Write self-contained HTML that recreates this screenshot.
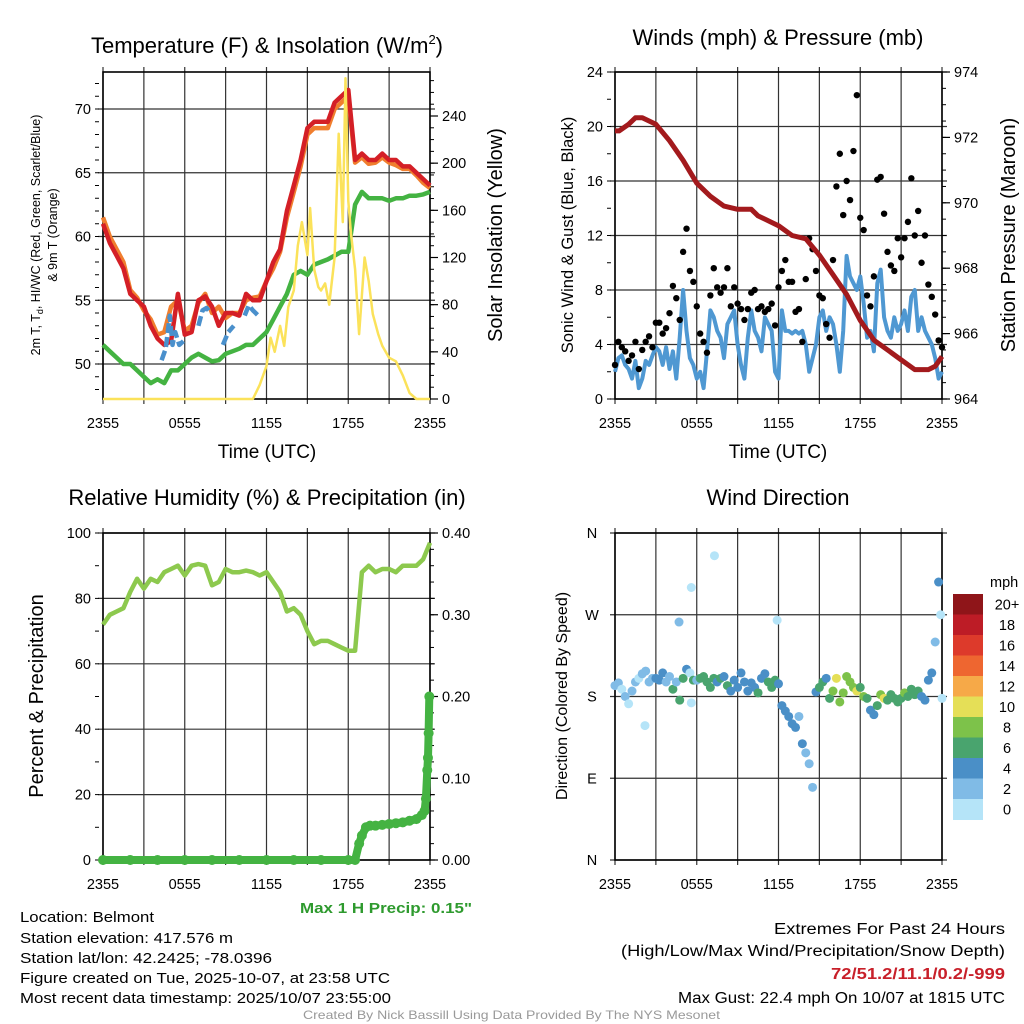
<!DOCTYPE html>
<html><head><meta charset="utf-8"><style>
html,body{margin:0;padding:0;background:#fff;}
svg{display:block;font-family:"Liberation Sans",sans-serif;}
</style></head><body>
<svg id="fig" width="1024" height="1024" viewBox="0 0 1024 1024" xmlns="http://www.w3.org/2000/svg">
<rect width="1024" height="1024" fill="#fff"/>
<g id="layer"></g>
<text x="267" y="53" font-size="22" text-anchor="middle">Temperature (F) &amp; Insolation (W/m<tspan font-size="13" dy="-9">2</tspan><tspan dy="9">)</tspan></text>
<text x="778" y="45" font-size="22" text-anchor="middle">Winds (mph) &amp; Pressure (mb)</text>
<text x="267" y="505" font-size="22" text-anchor="middle">Relative Humidity (%) &amp; Precipitation (in)</text>
<text x="778" y="505" font-size="22" text-anchor="middle">Wind Direction</text>

<text transform="translate(40,235) rotate(-90)" font-size="12.5" text-anchor="middle">2m T, T<tspan font-size="9" dy="3">d</tspan><tspan dy="-3">, HI/WC (Red, Green, Scarlet/Blue)</tspan></text>
<text transform="translate(57,235) rotate(-90)" font-size="12.5" text-anchor="middle">&amp; 9m T (Orange)</text>
<text transform="translate(502,235) rotate(-90)" font-size="20" text-anchor="middle">Solar Insolation (Yellow)</text>
<text transform="translate(573,235) rotate(-90)" font-size="16.5" text-anchor="middle">Sonic Wind &amp; Gust (Blue, Black)</text>
<text transform="translate(1015,235) rotate(-90)" font-size="20" text-anchor="middle">Station Pressure (Maroon)</text>
<text transform="translate(43,696) rotate(-90)" font-size="20" text-anchor="middle">Percent &amp; Precipitation</text>
<text transform="translate(567,696) rotate(-90)" font-size="16" text-anchor="middle">Direction (Colored By Speed)</text>
<text x="267" y="458" font-size="19" text-anchor="middle">Time (UTC)</text>
<text x="778" y="458" font-size="19" text-anchor="middle">Time (UTC)</text>

<text x="300" y="913" font-size="15" font-weight="bold" fill="#2e9a2e" textLength="172" lengthAdjust="spacingAndGlyphs">Max 1 H Precip: 0.15"</text>
<g font-size="15">
<text x="20" y="922" textLength="134" lengthAdjust="spacingAndGlyphs">Location: Belmont</text>
<text x="20" y="943" textLength="213" lengthAdjust="spacingAndGlyphs">Station elevation: 417.576 m</text>
<text x="20" y="963" textLength="252" lengthAdjust="spacingAndGlyphs">Station lat/lon: 42.2425; -78.0396</text>
<text x="20" y="983" textLength="370" lengthAdjust="spacingAndGlyphs">Figure created on Tue, 2025-10-07, at 23:58 UTC</text>
<text x="20" y="1003" textLength="371" lengthAdjust="spacingAndGlyphs">Most recent data timestamp: 2025/10/07 23:55:00</text>
</g>
<g font-size="15.5">
<text x="774" y="934" textLength="231" lengthAdjust="spacingAndGlyphs">Extremes For Past 24 Hours</text>
<text x="621" y="956" textLength="384" lengthAdjust="spacingAndGlyphs">(High/Low/Max Wind/Precipitation/Snow Depth)</text>
<text x="831" y="979" font-weight="bold" fill="#c8202a" textLength="174" lengthAdjust="spacingAndGlyphs">72/51.2/11.1/0.2/-999</text>
<text x="678" y="1003" textLength="327" lengthAdjust="spacingAndGlyphs">Max Gust: 22.4 mph On 10/07 at 1815 UTC</text>
</g>
<text x="303" y="1019" font-size="12" fill="#999" textLength="417" lengthAdjust="spacingAndGlyphs">Created By Nick Bassill Using Data Provided By The NYS Mesonet</text>
</svg>
<script>
// ---------- DATA ----------
const halfHours = [0,0.5,1,1.5,2,2.5,3,3.5,4,4.5,5,5.5,6,6.5,7,7.5,8,8.5,9,9.5,10,10.5,11,11.5,12,12.5,13,13.5,14,14.5,15,15.5,16,16.5,17,17.5,18,18.5,19,19.5,20,20.5,21,21.5,22,22.5,23,23.5,24];
const tempT = [61,59.5,58.5,57.5,55.5,55,54.5,53,52,51.5,51.8,55.5,52.3,52.5,55,55.3,54.5,53,54,54,53.8,55.5,55,55,56.5,58,59,62,64,66,68.5,69,69,69,70.5,71,71.5,66,66.5,66,66,66.5,66,66,65.5,65.5,65,64.5,64];
const temp9m = [61.5,60,59,58,55.8,55.2,54.2,53.5,52.3,52.5,54.5,55,52.6,53,54.8,55.5,54,54.5,53.6,54,54,55,55.2,55.3,56.5,57.5,58.8,61.5,63.5,65.5,68,68.5,68.5,68.5,70,70.5,71,65.8,66.2,65.7,65.8,66.2,65.8,65.6,65.3,65.3,64.8,64.2,63.8];
const dewT = [51.5,51,50.5,50,50,49.5,49,48.5,48.8,48.5,49.5,49.5,50,50.5,50.8,50.5,50.2,50.3,50.8,51,51.2,51.5,51.5,52,52.5,53.5,54.5,55.5,57,57.3,57,57.8,58,58.2,58.5,58.8,58.8,62.5,63.5,63,63,63,62.8,63,63,63.2,63.2,63.3,63.5];
const hiwcTimes = [4.3,4.6,4.9,5.1,5.3,5.6,5.9,null,7.0,7.3,7.6,7.9,null,8.8,9.2,9.6,null,10.4,10.7,11.0,11.4];
const hiwcT = [50.3,51.2,53.8,51.5,52.5,51.5,51.8,null,53,54.2,54.4,54,null,51.5,52.5,53,null,53.8,54.6,54.2,53.8];
const solarTimes = [0,11,11.5,12,12.3,12.6,13,13.3,13.6,14,14.3,14.6,15,15.2,15.5,15.8,16,16.3,16.6,17,17.3,17.6,17.8,18,18.2,18.5,18.8,19.2,19.5,19.8,20.2,20.5,21,21.5,22,22.5,23,24];
const solarW = [0,0,12,28,52,40,62,45,78,92,130,150,122,162,110,95,92,98,80,120,225,150,272,168,140,110,55,120,100,72,55,45,35,32,20,5,0,0];
const pressTimes = [0,0.3,1,1.5,2,3,4,5,6,7,8,9,10,10.5,11,12,13,14,15,16,17,18,19,20,21,22,22.5,23,23.5,24];
const pressMb = [972.2,972.2,972.4,972.6,972.6,972.4,971.9,971.3,970.6,970.2,969.9,969.8,969.8,969.6,969.5,969.3,969.0,968.9,968.4,967.8,967.2,966.4,965.8,965.5,965.2,964.9,964.9,964.9,965.0,965.3];
const quarterHours = [];
for (let i = 0; i <= 96; i++) quarterHours.push(i * 0.25);
const windMph = [2,3,3.2,2.5,2.2,1.5,2.8,0.8,1.5,2.8,2.5,3.2,3.8,3.5,2.5,3.8,2.2,3.5,1.5,4.5,8,5,3,2.5,1.5,2,0.8,3.5,6.5,6,5,4.5,3,5.5,6,6.5,4,2.5,1.5,4.5,6.5,5,4.5,3.5,6,5.5,5,2,1.5,6.5,5,5,4.8,5,4.8,5,4,2,3,4,6,6.5,5,6,5.5,4,2,5,10.5,9,8.5,8,9,7,4.5,5,3.5,8.5,9.5,6,5,4.5,6,5,5.5,6.5,5,7.5,8,5,6,5,4.5,4,3,1.5,2];
const gustTimes = quarterHours;
const gustMph = [2.5,4.2,3.8,3.5,2.8,3.2,4.2,2.2,3.6,4.2,4.6,3.8,5.6,5.6,4.8,5.2,6.3,8.3,7.4,5.8,10.8,12.5,9.4,8.6,6.8,4.8,4.2,3.4,7.6,9.6,8.2,7.8,8.2,9.6,6.8,8.2,7,6.6,5.8,6.6,7.8,8,6.6,6.8,6.4,6.6,7,5.4,8.2,9.4,10.2,8.6,8.6,6.4,6.6,4.2,8.8,11.8,11,9.4,7.6,7.4,5.5,4.5,10.2,15.6,18,13.5,16,14.6,18.2,22.3,13.3,12.4,7.6,6.8,9,16.1,16.3,13.6,10.8,9.8,9.4,11.8,10.4,11.8,13,16.2,12,13.8,10,12,8.4,7.5,6.2,4.3,3.8];
const rhPct = [72,75,76,77,82,86,83,86,85,88,89,90,87,90,90.5,90,84,85,89,88,88,88.5,88,87,88,85,82,76,77,75,70,66,67,67,66,65,64,64,88,90,88,89,89,88,90,90,90,92,97];
const precipTimes = [0,2,4,6,8,10,12,14,16,18,18.5,18.8,19,19.3,19.6,20,20.5,21,21.5,22,22.5,23,23.4,23.6,23.7,23.8,23.85,23.9,23.95];
const precipIn = [0,0,0,0,0,0,0,0,0,0,0,0.02,0.03,0.04,0.042,0.042,0.043,0.044,0.045,0.046,0.048,0.05,0.055,0.06,0.075,0.11,0.125,0.155,0.2];
const dirTimes = quarterHours.concat([2.2,4.7,5.6,5.6,7.3,11.9,23.9]);
const dirDeg = [192,195,188,180,172,186,196,200,205,208,196,200,200,198,206,196,202,188,196,176,200,210,206,198,198,200,202,196,190,200,196,200,202,192,186,198,190,206,196,186,195,190,184,200,205,196,190,198,194,170,164,158,150,146,158,128,118,106,80,185,190,196,200,178,186,200,174,184,202,196,190,186,190,180,178,165,160,170,182,178,176,182,178,174,178,184,180,188,182,186,180,176,198,206,240,306,178,
 148,262,300,173,335,264,270];
const dirSpeed = [2,2,1,3,1,2,2,1,2,2,2,3,4,4,4,3,3,6,2,6,6,4,1,6,3,6,6,6,6,6,4,6,4,6,4,4,4,4,4,4,4,4,6,4,4,6,6,6,4,4,4,4,4,4,2,4,2,2,2,4,6,6,4,6,8,10,8,8,8,8,8,10,6,8,6,4,4,6,8,10,6,6,6,6,6,8,6,6,6,6,4,4,4,4,2,4,0,
 0,3,0,0,0,0,0];
const speedLabels = ["0","2","4","6","8","10","12","14","16","18","20+"];
const speedColors = ["#b5e4f8","#80bbe6","#4a8fc7","#49a46e","#7dc24a","#e5df57","#f6a948","#ee6630","#dd3a2b","#bd1c26","#8f1519"];
const timeLabels = ["2355","0555","1155","1755","2355"];
const tempTicks = [50,55,60,65,70];
const solarTicks = [0,40,80,120,160,200,240];
const windTicks = [0,4,8,12,16,20,24];
const pressTicks = [964,966,968,970,972,974];
const rhTicks = [0,20,40,60,80,100];
const precipTicks = ["0.00","0.10","0.20","0.30","0.40"];
const dirLabels = ["N","E","S","W","N"];

// ---------- HELPERS ----------
const NS = "http://www.w3.org/2000/svg";
const layer = document.getElementById("layer");
function mk(tag, attrs, parent) {
  const e = document.createElementNS(NS, tag);
  for (const k in attrs) e.setAttribute(k, attrs[k]);
  (parent || layer).appendChild(e);
  return e;
}
function lin(d0, d1, r0, r1) { return v => r0 + (v - d0) / (d1 - d0) * (r1 - r0); }
function pathD(xs, ys, fx, fy) {
  let d = "", pen = false;
  for (let i = 0; i < xs.length; i++) {
    if (xs[i] === null || ys[i] === null) { pen = false; continue; }
    d += (pen ? "L" : "M") + fx(xs[i]).toFixed(1) + "," + fy(ys[i]).toFixed(1);
    pen = true;
  }
  return d;
}
function panel(name, x0, x1, y0, y1, hlines) {
  const g = mk("g", {});
  
  
  const fx = lin(0, 24, x0, x1);
  for (let i = 0; i <= 8; i++) {
    const l = mk("line", {x1: fx(i * 3), x2: fx(i * 3), y1: y0 - 5, y2: y1 + 5, stroke: "#333", "stroke-width": 1.2}, g);
    
    
  }
  hlines.forEach(y => {
    const l = mk("line", {x1: x0 - 5, x2: x1 + 5, y1: y, y2: y, stroke: "#333", "stroke-width": 1.2}, g);
    
    
  });
  const f = mk("rect", {x: x0, y: y0, width: x1 - x0, height: y1 - y0, fill: "none", stroke: "#000", "stroke-width": 1.6}, g);
  
  
  timeLabels.forEach((t, i) => {
    const tx = mk("text", {x: fx(i * 6), y: y1 + 29, "font-size": 14.5, "text-anchor": "middle"}, g);
    
    
    tx.textContent = t;
  });
  return {g, fx};
}
function yTicks(g, vals, labels, fy, x, side, minorVals) {
  vals.forEach((v, i) => {
    const y = fy(v);
    if (side === "right") mk("line", {x1: x, x2: x + 8, y1: y, y2: y, stroke: "#000", "stroke-width": 1.2}, g);
    const t = mk("text", {x: side === "left" ? x - 8 : x + 12, y: y + 5, "font-size": 14.5, "text-anchor": side === "left" ? "end" : "start"}, g);
    
    
    t.textContent = labels[i];
  });
  (minorVals || []).forEach(v => {
    const y = fy(v);
    if (side === "right") mk("line", {x1: x, x2: x + 4, y1: y, y2: y, stroke: "#000", "stroke-width": 1}, g);
    else mk("line", {x1: x, x2: x - 4, y1: y, y2: y, stroke: "#000", "stroke-width": 1}, g);
  });
}
function range(a, b, s) { const r = []; for (let v = a; v <= b + 1e-9; v += s) r.push(+v.toFixed(4)); return r; }

// ---------- PANEL 1: Temperature ----------
(function () {
  const x0 = 103, x1 = 430, y0 = 72, y1 = 399;
  const fy = lin(50, 70, 364, 109);
  const fs = lin(0, 240, 399, 116);
  const P = panel("temperature", x0, x1, y0, y1, tempTicks.map(fy));
  yTicks(P.g, tempTicks, tempTicks.map(String), fy, x0 - 4, "left", range(48, 72, 1));
  yTicks(P.g, solarTicks, solarTicks.map(String), fs, x1, "right", range(0, 270, 10));
  const s1 = mk("path", {d: pathD(halfHours, temp9m, P.fx, fy), fill: "none", stroke: "#f07e2e", "stroke-width": 4.5, "stroke-linejoin": "round"});
  
  
  const s2 = mk("path", {d: pathD(halfHours, tempT, P.fx, fy), fill: "none", stroke: "#d41f26", "stroke-width": 4.5, "stroke-linejoin": "round"});
  
  
  const s3 = mk("path", {d: pathD(hiwcTimes, hiwcT, P.fx, fy), fill: "none", stroke: "#4a90cc", "stroke-width": 4.5, "stroke-dasharray": "10,4", "stroke-linejoin": "round"});
  
  
  const s4 = mk("path", {d: pathD(halfHours, dewT, P.fx, fy), fill: "none", stroke: "#44b342", "stroke-width": 4.5, "stroke-linejoin": "round"});
  
  
  const s5 = mk("path", {d: pathD(solarTimes, solarW, P.fx, fs), fill: "none", stroke: "#fbe25a", "stroke-width": 2.5, "stroke-linejoin": "round"});
  
  
})();

// ---------- PANEL 2: Winds ----------
(function () {
  const x0 = 615, x1 = 942, y0 = 72, y1 = 399;
  const fy = lin(0, 24, 399, 72);
  const fp = lin(964, 974, 399, 72);
  const P = panel("winds", x0, x1, y0, y1, windTicks.map(fy));
  yTicks(P.g, windTicks, windTicks.map(String), fy, x0 - 4, "left", range(0, 24, 2));
  yTicks(P.g, pressTicks, pressTicks.map(String), fp, x1, "right", range(964, 974, 0.5));
  const w = mk("path", {d: pathD(quarterHours, windMph, P.fx, fy), fill: "none", stroke: "#4f98d2", "stroke-width": 4, "stroke-linejoin": "round"});
  
  
  gustTimes.forEach((t, i) => {
    const c = mk("circle", {cx: P.fx(t), cy: fy(gustMph[i]), r: 3.2, fill: "#000"});
    
    
  });
  const p = mk("path", {d: pathD(pressTimes, pressMb, P.fx, fp), fill: "none", stroke: "#a31a1d", "stroke-width": 5, "stroke-linejoin": "round"});
  
  
})();

// ---------- PANEL 3: RH ----------
(function () {
  const x0 = 103, x1 = 430, y0 = 533, y1 = 860;
  const fy = lin(0, 100, 860, 533);
  const fp = lin(0, 0.4, 860, 533);
  const P = panel("humidity", x0, x1, y0, y1, rhTicks.map(fy));
  yTicks(P.g, rhTicks, rhTicks.map(String), fy, x0 - 4, "left", range(0, 100, 10));
  yTicks(P.g, precipTicks.map(Number), precipTicks, fp, x1, "right", range(0, 0.4, 0.02));
  const r = mk("path", {d: pathD(halfHours, rhPct, P.fx, fy), fill: "none", stroke: "#8dc94e", "stroke-width": 4.5, "stroke-linejoin": "round"});
  
  
  const pl = mk("path", {d: pathD(precipTimes, precipIn, P.fx, fp), fill: "none", stroke: "#44b342", "stroke-width": 8, "stroke-linejoin": "round"});
  
  
  precipTimes.forEach((t, i) => {
    const c = mk("circle", {cx: P.fx(t), cy: fp(precipIn[i]), r: 5, fill: "#44b342"});
    
    
  });
})();

// ---------- PANEL 4: Direction ----------
(function () {
  const x0 = 615, x1 = 942, y0 = 533, y1 = 860;
  const fy = lin(0, 360, 860, 533);
  const P = panel("direction", x0, x1, y0, y1, [0, 90, 180, 270, 360].map(fy));
  dirLabels.forEach((l, i) => {
    const t = mk("text", {x: 592, y: fy(i * 90) + 5, "font-size": 14.5, "text-anchor": "middle"}, P.g);
    
    
    t.textContent = l;
  });
  dirTimes.forEach((t, i) => {
    const bin = Math.min(10, Math.floor(dirSpeed[i] / 2));
    const c = mk("circle", {cx: P.fx(t), cy: fy(dirDeg[i]), r: 4.5, fill: speedColors[bin]});
    
    
  });
  const lg = mk("g", {});
  
  
  const cy0 = 594, ch = 20.5;
  const u = mk("text", {x: 990, y: 587, "font-size": 14.5}, lg);
  u.textContent = "mph";
  for (let i = 0; i < speedColors.length; i++) {
    const idx = speedColors.length - 1 - i;
    const r = mk("rect", {x: 953, y: cy0 + i * ch, width: 30, height: ch + 0.5, fill: speedColors[idx]}, lg);
    
    
    const t = mk("text", {x: 1007, y: cy0 + i * ch + ch * 0.5 + 5, "font-size": 14.5, "text-anchor": "middle"}, lg);
    
    
    t.textContent = speedLabels[idx];
  }
})();
</script>
</body></html>
